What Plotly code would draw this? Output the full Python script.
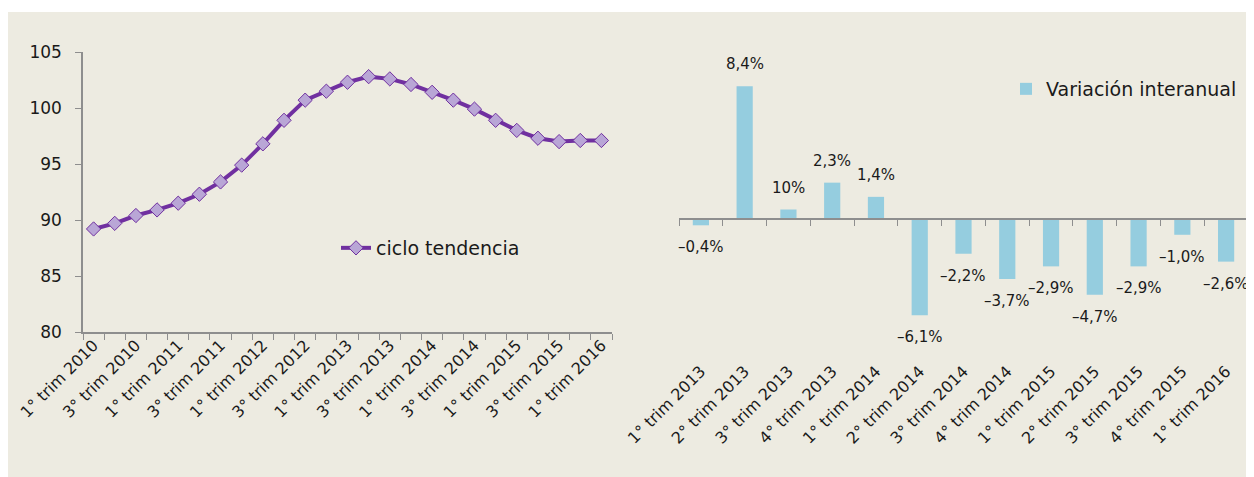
import plotly.graph_objects as go

# ---------------- data ----------------
left_labels = [
    "1° trim 2010", "2° trim 2010", "3° trim 2010", "4° trim 2010",
    "1° trim 2011", "2° trim 2011", "3° trim 2011", "4° trim 2011",
    "1° trim 2012", "2° trim 2012", "3° trim 2012", "4° trim 2012",
    "1° trim 2013", "2° trim 2013", "3° trim 2013", "4° trim 2013",
    "1° trim 2014", "2° trim 2014", "3° trim 2014", "4° trim 2014",
    "1° trim 2015", "2° trim 2015", "3° trim 2015", "4° trim 2015",
    "1° trim 2016",
]
ciclo_tendencia = [89.2, 89.7, 90.4, 90.9, 91.5, 92.3, 93.4, 94.9, 96.8, 98.9,
                   100.7, 101.5, 102.3, 102.8, 102.6, 102.1, 101.4, 100.7, 99.9,
                   98.9, 98.0, 97.3, 97.0, 97.1, 97.1]

right_labels = [
    "1° trim 2013", "2° trim 2013", "3° trim 2013", "4° trim 2013",
    "1° trim 2014", "2° trim 2014", "3° trim 2014", "4° trim 2014",
    "1° trim 2015", "2° trim 2015", "3° trim 2015", "4° trim 2015",
    "1° trim 2016",
]
variacion = [-0.4, 8.4, 0.6, 2.3, 1.4, -6.1, -2.2, -3.8, -3.0, -4.8, -3.0, -1.0, -2.7]
variacion_text = ["–0,4%", "8,4%", "10%", "2,3%", "1,4%", "–6,1%", "–2,2%",
                  "–3,7%", "–2,9%", "–4,7%", "–2,9%", "–1,0%", "–2,6%"]

# ---------------- style ----------------
FONT = "DejaVu Sans"
PANEL = "#EDEBE1"
AXIS = "#8E8E8E"
TXT = "#1A1A1A"
PURPLE = "#7030A0"
LAVENDER = "#B9A6D6"
BLUE = "#95CDDF"

OFF = 8  # page body margin
W, H = 1254 - OFF, 477 - OFF
ML = 83 - OFF
MR = W - (1248 - OFF)
MT = 52 - OFF
MB = H - (358 - OFF)
pw = W - ML - MR
ph = H - MT - MB


def px(xp):
    return (xp - OFF - ML) / pw


def py(yp):
    return (H - MB - (yp - OFF)) / ph


left_dom = [0, px(612)]
right_dom = [px(679), 1]
left_ydom = [py(332), 1]

yr_min, yr_max = -8.8, 10.57
zero_pos = (0 - yr_min) / (yr_max - yr_min)

n_left = len(left_labels)
n_right = len(right_labels)
xl = list(range(n_left))
xr = list(range(n_right))

fig = go.Figure()

fig.add_trace(go.Scatter(
    x=xl, y=ciclo_tendencia, mode="lines+markers", name="ciclo tendencia",
    line=dict(color=PURPLE, width=4),
    marker=dict(symbol="diamond", size=11, color=LAVENDER,
                line=dict(color=PURPLE, width=1)),
    xaxis="x", yaxis="y", legend="legend",
))

fig.add_trace(go.Bar(
    x=xr, y=variacion, name="Variación interanual",
    marker=dict(color=BLUE, line=dict(width=0)),
    width=0.37,
    xaxis="x2", yaxis="y2", legend="legend2",
))

for i, (v, t) in enumerate(zip(variacion, variacion_text)):
    fig.add_annotation(
        x=xr[i], y=v, xref="x2", yref="y2", text=t, showarrow=False,
        yshift=22 if v >= 0 else -22, yanchor="middle", xanchor="center",
        font=dict(family=FONT, size=15, color=TXT),
    )

# background panel
fig.add_shape(type="rect", xref="paper", yref="paper",
              x0=px(7), x1=px(1251),
              y0=py(490), y1=py(12),
              fillcolor=PANEL, line=dict(width=0), layer="below")

tickfont = dict(family=FONT, size=16, color=TXT)

fig.update_layout(
    width=W, height=H,
    margin=dict(l=ML, r=MR, t=MT, b=MB),
    paper_bgcolor="white", plot_bgcolor="rgba(0,0,0,0)",
    font=dict(family=FONT, color=TXT),
    showlegend=True,
    xaxis=dict(domain=left_dom, anchor="y", range=[-0.5, n_left - 0.5],
               tickmode="array", tickvals=xl[::2], ticktext=left_labels[::2],
               tickangle=-45, tickfont=tickfont, ticks="", showline=False,
               showgrid=False, zeroline=False),
    xaxis3=dict(overlaying="x", anchor="y", range=[-0.5, n_left - 0.5],
                tickmode="array", tickvals=[i - 0.5 for i in range(n_left + 1)],
                ticks="outside", ticklen=6, tickcolor=AXIS, showticklabels=False,
                showline=True, linecolor=AXIS, linewidth=1.5,
                showgrid=False, zeroline=False),
    yaxis=dict(domain=left_ydom, anchor="x", range=[80, 105],
               tickmode="array", tickvals=[80, 85, 90, 95, 100, 105],
               ticks="outside", ticklen=6, tickcolor=AXIS,
               showline=True, linecolor=AXIS, linewidth=1.5,
               ticklabelstandoff=10,
               tickfont=dict(family=FONT, size=17, color=TXT),
               showgrid=False, zeroline=False),
    xaxis2=dict(domain=right_dom, anchor="y2", range=[-0.5, n_right - 0.5],
                tickmode="array", tickvals=xr, ticktext=right_labels,
                tickangle=-45, tickfont=tickfont, ticks="", showline=False,
                showgrid=False, zeroline=False),
    xaxis4=dict(overlaying="x2", anchor="free", position=zero_pos,
                range=[-0.5, n_right - 0.5],
                tickmode="array", tickvals=[i - 0.5 for i in range(n_right + 1)],
                ticks="outside", ticklen=6, tickcolor=AXIS, showticklabels=False,
                showline=True, linecolor=AXIS, linewidth=1.5,
                showgrid=False, zeroline=False),
    yaxis2=dict(domain=[0, 1], anchor="x2", range=[yr_min, yr_max],
                visible=False, showgrid=False, zeroline=False),
    legend=dict(x=px(336), y=py(248), xanchor="left",
                yanchor="middle", bgcolor="rgba(0,0,0,0)",
                font=dict(family=FONT, size=19, color=TXT)),
    legend2=dict(x=px(1006), y=py(89), xanchor="left",
                 yanchor="middle", bgcolor="rgba(0,0,0,0)",
                 font=dict(family=FONT, size=19, color=TXT)),
)

# attach invisible traces so overlay axes render
fig.add_trace(go.Scatter(x=[None], y=[None], xaxis="x3", yaxis="y",
                         showlegend=False, hoverinfo="skip"))
fig.add_trace(go.Scatter(x=[None], y=[None], xaxis="x4", yaxis="y2",
                         showlegend=False, hoverinfo="skip"))

fig.write_html("out.html")
